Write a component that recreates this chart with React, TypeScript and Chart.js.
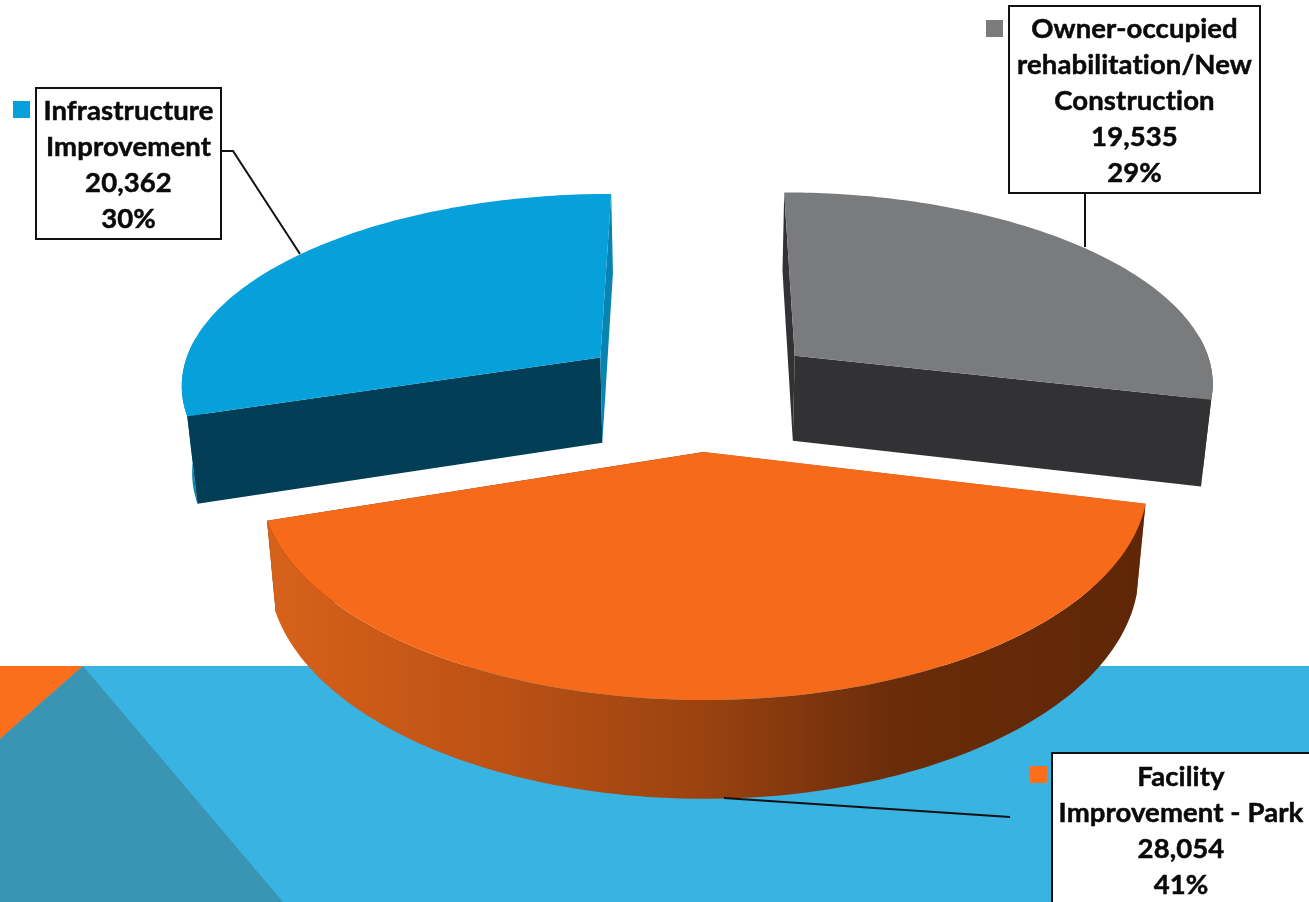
import React, { useEffect, useRef } from "react";
import { Chart, registerables } from "chart.js";

Chart.register(...registerables);

const categories = ["Owner-occupied rehabilitation/New Construction", "Facility Improvement - Park", "Infrastructure Improvement"];
const values = [19535, 28054, 20362];
const percents = ["29%", "41%", "30%"];
const topColors = ["#7a7b7d", "#f66a19", "#06a0da"];
const startWallColors = ["#323234", "#c9581a", "#023f56"];
const endWallColors = ["#323234", "#5f2707", "#0884b4"];
const outerWallColors = ["#3a3a3c", "gradient", "#0884b4"];
const labelLines = [
  ["Owner-occupied", "rehabilitation/New", "Construction"],
  ["Facility", "Improvement - Park"],
  ["Infrastructure", "Improvement"],
];

// 3-D view of the pie plane
const CX = 699, A = 424, KV = 0.1305, YA = 147.7, YB = 394.8;
const explodeU = [0.295, 0.277, 0.295];
const explodeV = [0.325, 0.277, 0.325];
const rimV = [0.97, 1, 0.97];
const proj = (u: number, v: number) => {
  const w = 1 - KV * v;
  return [CX + (A * u) / w, (YA * v + YB) / w];
};
const drop = (p: number[]) => [CX + (p[0] - CX) * 0.98, p[1] + 85 + (p[1] - 355) * 0.04];

const poly = (ctx: CanvasRenderingContext2D, pts: number[][], fill: any) => {
  ctx.beginPath();
  pts.forEach((p, i) => (i ? ctx.lineTo(p[0], p[1]) : ctx.moveTo(p[0], p[1])));
  ctx.closePath();
  ctx.fillStyle = fill;
  ctx.fill();
};

const pie3d = {
  id: "pie3d",
  beforeDraw(chart: any) {
    const ctx = chart.ctx as CanvasRenderingContext2D;
    ctx.save();
    ctx.fillStyle = "#ffffff";
    ctx.fillRect(0, 0, 1309, 902);
    ctx.fillStyle = "#38b3e2";
    ctx.fillRect(0, 666, 1309, 236);
    poly(ctx, [[0, 666], [83, 666], [0, 739]], "#fb6e1c");
    poly(ctx, [[83, 666], [283, 902], [0, 902], [0, 739]], "#3a95b5");
    ctx.restore();
  },
  beforeDatasetDraw(chart: any) {
    const ctx = chart.ctx as CanvasRenderingContext2D;
    const arcs = chart.getDatasetMeta(0).data;
    ctx.save();
    // painter's order: far slices first, the near slice last
    [2, 0, 1].forEach((i) => {
      const a = arcs[i];
      const mid = (a.startAngle + a.endAngle) / 2;
      const ou = Math.cos(mid) * explodeU[i], ov = Math.sin(mid) * explodeV[i];
      const apex = proj(ou, ov);
      const rim: number[][] = [];
      const facing: number[][] = [];
      const n = 120;
      for (let k = 0; k <= n; k++) {
        const t = a.startAngle + ((a.endAngle - a.startAngle) * k) / n;
        const p = proj(ou + Math.cos(t), ov + Math.sin(t) * rimV[i]);
        rim.push(p);
        if (Math.sin(t) > -0.12) facing.push(p);
      }
      const first = rim[0], last = rim[n];
      const drawCuts = () => {
        poly(ctx, [apex, first, drop(first), drop(apex)], startWallColors[i]);
        poly(ctx, [apex, last, drop(last), drop(apex)], endWallColors[i]);
      };
      const drawOuter = () => {
        if (facing.length < 2) return;
        let fill: any = outerWallColors[i];
        if (fill === "gradient") {
          const g = ctx.createLinearGradient(277, 0, 1135, 0);
          g.addColorStop(0, "#d6611a");
          g.addColorStop(0.25, "#bd5215");
          g.addColorStop(0.5, "#9a4210");
          g.addColorStop(0.72, "#6a2c0a");
          g.addColorStop(1, "#5f2707");
          fill = g;
        }
        poly(ctx, [...facing, ...facing.slice().reverse().map(drop)], fill);
      };
      if (Math.sin(mid) > 0) {
        drawCuts();
        drawOuter();
      } else {
        drawOuter();
        drawCuts();
      }
      poly(ctx, [apex, ...rim], topColors[i]);
    });
    ctx.restore();
    return false;
  },
  afterDatasetsDraw(chart: any) {
    const ctx = chart.ctx as CanvasRenderingContext2D;
    ctx.save();
    const leaders = [
      [[1085, 193], [1085, 247]],
      [[724, 798], [1010, 817]],
      [[221, 151], [233, 151], [300, 254]],
    ];
    const boxes = [
      { x: 1009, y: 6, w: 251, h: 187, cx: 1134.5, base: 38, mx: 986, my: 20 },
      { x: 1052, y: 753, w: 262, h: 160, cx: 1181, base: 786, mx: 1030, my: 766 },
      { x: 36, y: 88, w: 185, h: 151, cx: 128.5, base: 120, mx: 13, my: 101 },
    ];
    ctx.strokeStyle = "#111111";
    ctx.lineWidth = 2;
    leaders.forEach((l) => {
      ctx.beginPath();
      l.forEach((p, i) => (i ? ctx.lineTo(p[0], p[1]) : ctx.moveTo(p[0], p[1])));
      ctx.stroke();
    });
    boxes.forEach((b, i) => {
      ctx.strokeStyle = "#111111";
      ctx.lineWidth = 2;
      ctx.fillStyle = "#ffffff";
      ctx.fillRect(b.x, b.y, b.w, b.h);
      ctx.strokeRect(b.x, b.y, b.w, b.h);
      ctx.fillStyle = topColors[i] === "#f66a19" ? "#fb6e1c" : topColors[i];
      ctx.fillRect(b.mx, b.my, 17, 17);
      ctx.fillStyle = "#0a0a0a";
      ctx.strokeStyle = "#0a0a0a";
      ctx.lineWidth = 0.5;
      ctx.font = "bold 27.5px Lato";
      (ctx as any).letterSpacing = "0.1px";
      ctx.textAlign = "center";
      ctx.textBaseline = "alphabetic";
      const lines = [...labelLines[i], values[i].toLocaleString("en-US"), percents[i]];
      lines.forEach((s, k) => {
        ctx.fillText(s, b.cx, b.base + k * 36);
        ctx.strokeText(s, b.cx, b.base + k * 36);
      });
    });
    ctx.restore();
  },
};

export default function App() {
  const ref = useRef<HTMLCanvasElement>(null);
  useEffect(() => {
    const chart = new Chart(ref.current as HTMLCanvasElement, {
      type: "pie",
      data: {
        labels: categories,
        datasets: [{ data: values, backgroundColor: topColors, borderWidth: 0 }],
      },
      options: {
        responsive: false,
        animation: false,
        rotation: 0,
        plugins: { legend: { display: false }, tooltip: { enabled: false } },
      },
      plugins: [pie3d],
    } as any);
    return () => chart.destroy();
  }, []);
  return (
    <div style={{ position: "fixed", left: 0, top: 0, width: 1309, height: 902, overflow: "hidden" }}>
      <canvas ref={ref} width={1309} height={902} style={{ display: "block" }} />
    </div>
  );
}
